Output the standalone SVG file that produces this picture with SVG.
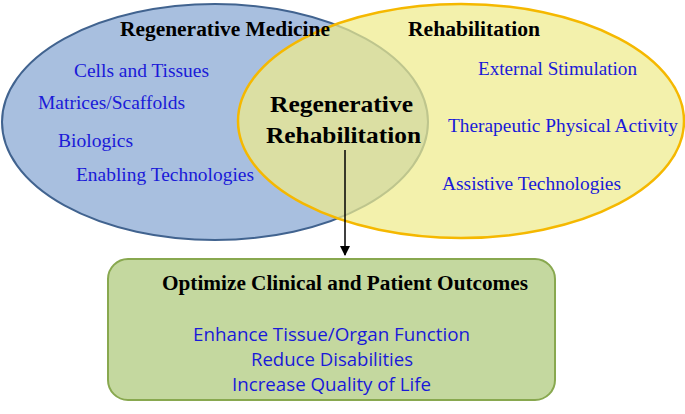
<svg xmlns="http://www.w3.org/2000/svg" width="685" height="414" viewBox="0 0 685 414">
<style>
.h{font-family:"Liberation Serif",serif;font-weight:bold;font-size:20px;fill:#000}
.i{font-family:"Liberation Serif",serif;font-size:19px;fill:#1a1ad8}
.o{font-family:"Open Sans","Liberation Sans",sans-serif;font-size:18.5px;fill:#1a1ad8;text-anchor:middle}
</style>
<defs><marker id="a" markerWidth="10" markerHeight="10" refX="9" refY="5" orient="auto" markerUnits="userSpaceOnUse"><path d="M0,0 L10,5 L0,10 z" fill="#000"/></marker></defs>
<g id="medicine"><ellipse cx="215" cy="122" rx="213" ry="118" fill="#a8bfdf" stroke="#41638f" stroke-width="2"/></g>
<g id="rehab"><ellipse cx="461" cy="121" rx="223" ry="117" fill="#eeec8c" fill-opacity="0.72" stroke="#f5b800" stroke-width="2.5"/></g>
<text class="h" x="120" y="36" textLength="210" lengthAdjust="spacingAndGlyphs">Regenerative Medicine</text>
<text class="h" x="408" y="36" textLength="132" lengthAdjust="spacingAndGlyphs">Rehabilitation</text>
<text class="i" x="74" y="77" textLength="135" lengthAdjust="spacingAndGlyphs">Cells and Tissues</text>
<text class="i" x="38" y="109" textLength="147" lengthAdjust="spacingAndGlyphs">Matrices/Scaffolds</text>
<text class="i" x="58" y="147" textLength="75" lengthAdjust="spacingAndGlyphs">Biologics</text>
<text class="i" x="76" y="181" textLength="178" lengthAdjust="spacingAndGlyphs">Enabling Technologies</text>
<text class="i" x="478" y="75" textLength="159" lengthAdjust="spacingAndGlyphs">External Stimulation</text>
<text class="i" x="448" y="132" textLength="230" lengthAdjust="spacingAndGlyphs">Therapeutic Physical Activity</text>
<text class="i" x="442" y="190" textLength="179" lengthAdjust="spacingAndGlyphs">Assistive Technologies</text>
<g id="center"><text class="h" style="font-size:24px" x="270" y="112" textLength="143" lengthAdjust="spacingAndGlyphs">Regenerative</text><text class="h" style="font-size:24px" x="266" y="143" textLength="155" lengthAdjust="spacingAndGlyphs">Rehabilitation</text></g>
<g id="connectors"><line x1="345" y1="150" x2="345" y2="255" stroke="#000" stroke-width="1.5" marker-end="url(#a)"/></g>
<g id="outcomes"><rect x="108" y="259" width="447" height="141" rx="20" fill="#c4d89f" stroke="#88a84f" stroke-width="2"/>
<text class="h" x="162" y="290" textLength="366" lengthAdjust="spacingAndGlyphs">Optimize Clinical and Patient Outcomes</text>
<text class="o" x="331.5" y="341" textLength="277" lengthAdjust="spacingAndGlyphs">Enhance Tissue/Organ Function</text>
<text class="o" x="332" y="366" textLength="162" lengthAdjust="spacingAndGlyphs">Reduce Disabilities</text>
<text class="o" x="331.5" y="391" textLength="199" lengthAdjust="spacingAndGlyphs">Increase Quality of Life</text></g>
</svg>
